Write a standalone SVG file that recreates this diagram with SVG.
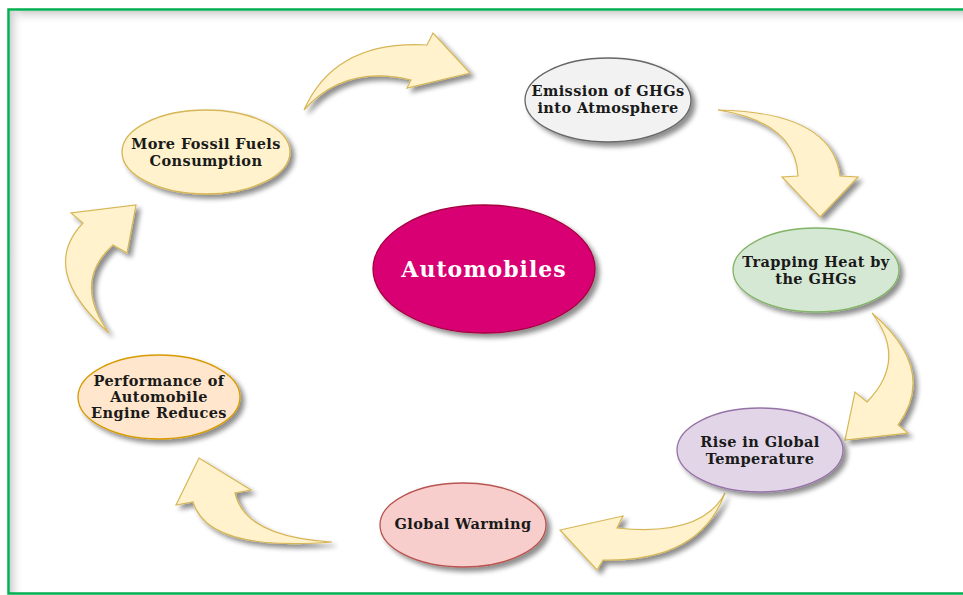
<svg xmlns="http://www.w3.org/2000/svg" width="963" height="595" viewBox="0 0 963 595">
<defs>
<filter id="sh" x="-20%" y="-20%" width="150%" height="150%">
<feGaussianBlur in="SourceAlpha" stdDeviation="2.5"/>
<feOffset dx="4" dy="4" result="b"/>
<feComponentTransfer in="b" result="c"><feFuncA type="linear" slope="0.45"/></feComponentTransfer>
<feMerge><feMergeNode in="c"/><feMergeNode in="SourceGraphic"/></feMerge>
</filter>
<linearGradient id="gt" x1="0" y1="0" x2="0" y2="1"><stop offset="0" stop-color="#d0d0d0"/><stop offset="1" stop-color="#ffffff" stop-opacity="0"/></linearGradient>
<linearGradient id="gl" x1="0" y1="0" x2="1" y2="0"><stop offset="0" stop-color="#d0d0d0"/><stop offset="1" stop-color="#ffffff" stop-opacity="0"/></linearGradient>
<style>
.ar{fill:#fff2cc;stroke:#d6b656;stroke-width:1.2;filter:url(#sh)}
.nd{stroke-width:1.3;filter:url(#sh)}
.t{font-family:"DejaVu Serif","Liberation Serif",serif;font-weight:bold;font-size:14.5px;letter-spacing:0.4px;fill:#1a1a1a;text-anchor:middle}
</style>
</defs>
<rect width="963" height="595" fill="#ffffff"/>
<rect x="10" y="11" width="953" height="14" fill="url(#gt)"/>
<rect x="10" y="11" width="14" height="582" fill="url(#gl)"/>
<rect x="8.5" y="9.5" width="1000" height="584" fill="none" stroke="#00b050" stroke-width="2.5"/>
<g id="connectors">
<path class="ar" d="M304,110 Q335,40 427,45 L433,33 L470,73 L407,88 L411,80 Q345,64 304,110 Z"/>
<path class="ar" d="M718,110 Q832,112 840,176 L858,177 L820,217 L782,177 L798,176 Q796,122 718,110 Z"/>
<path class="ar" d="M872,313 Q938,370 898,425 L908,433 L845,440 L855,392 L867,402 Q908,360 872,313 Z"/>
<path class="ar" d="M725,493 Q700,562 603,560 L597,570 L560,530 L623,516 L617,528 Q702,537 725,493 Z"/>
<path class="ar" d="M332,542 Q208,552 193,502 L176,505 L199,458 L251,490 L235,493 Q245,537 332,542 Z"/>
<path class="ar" d="M109,333 Q38,270 83,223 L71,213 L136,205 L127,253 L113,245 Q72,282 109,333 Z"/>
</g>
<g id="automobiles">
<ellipse class="nd" cx="484" cy="269" rx="111" ry="64" fill="#d80073" stroke="#a50040"/>
<text x="484" y="277" class="t" style="font-size:22px;letter-spacing:1px;fill:#ffffff">Automobiles</text>
</g>
<g id="emission">
<ellipse class="nd" cx="608" cy="100" rx="83" ry="42" fill="#f2f2f2" stroke="#666666"/>
<text x="608" y="96" class="t">Emission of GHGs</text>
<text x="608" y="113" class="t">into Atmosphere</text>
</g>
<g id="trapping">
<ellipse class="nd" cx="816" cy="270" rx="83" ry="42" fill="#d5e8d4" stroke="#82b366"/>
<text x="816" y="267" class="t">Trapping Heat by</text>
<text x="816" y="284" class="t">the GHGs</text>
</g>
<g id="rise">
<ellipse class="nd" cx="760" cy="450" rx="83" ry="42" fill="#e1d5e7" stroke="#9673a6"/>
<text x="760" y="447" class="t">Rise in Global</text>
<text x="760" y="464" class="t">Temperature</text>
</g>
<g id="warming">
<ellipse class="nd" cx="463" cy="525" rx="83" ry="42" fill="#f8cecc" stroke="#b85450"/>
<text x="463" y="529" class="t">Global Warming</text>
</g>
<g id="performance">
<ellipse class="nd" cx="159" cy="397" rx="81" ry="42" fill="#ffe6cc" stroke="#d79b00"/>
<text x="159" y="386" class="t">Performance of</text>
<text x="159" y="402" class="t">Automobile</text>
<text x="159" y="418" class="t">Engine Reduces</text>
</g>
<g id="fossil">
<ellipse class="nd" cx="206" cy="152" rx="84" ry="42" fill="#fff2cc" stroke="#d6b656"/>
<text x="206" y="149" class="t">More Fossil Fuels</text>
<text x="206" y="166" class="t">Consumption</text>
</g>
</svg>
